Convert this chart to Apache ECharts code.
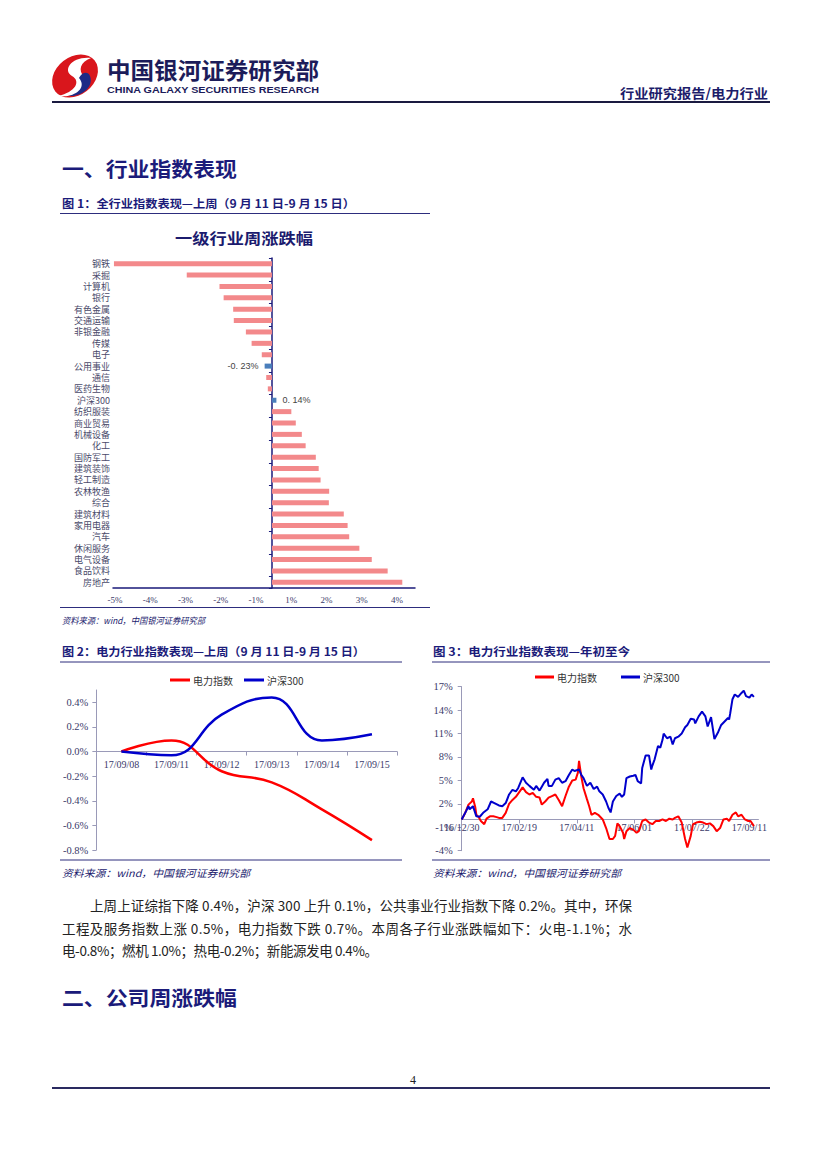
<!DOCTYPE html>
<html>
<head>
<meta charset="utf-8">
<script src="https://cdn.jsdelivr.net/npm/echarts@6/dist/echarts.min.js"></script>
<style>
  html,body{margin:0;padding:0;background:#fff;}
  #page{position:relative;width:827px;height:1169px;overflow:hidden;background:#fff;}
  #bg{position:absolute;left:0;top:0;}
  .chart{position:absolute;}
  .cjk{font-family:'Noto Sans CJK SC','Noto Sans',sans-serif;}
</style>
</head>
<body>
<div id="page">
<svg id="bg" width="827" height="1169" viewBox="0 0 827 1169" xmlns="http://www.w3.org/2000/svg">
  <g transform="translate(48,54)">
    <ellipse cx="27" cy="22" rx="25" ry="19" transform="rotate(-38 27 22)" fill="#d9161c"/>
    <path d="M43 4 C 24 2, 14 16, 24 22 C 33 27, 28 38, 10 42 C 30 44, 44 34, 36 23 C 30 16, 32 8, 43 4 Z" fill="#ffffff"/>
    <path d="M31 24 C 37 31, 33 39, 20 42 C 34 43, 46 33, 42 22 C 40 17, 34 18, 31 24 Z" fill="#1d2a86"/>
  </g>
  <g class="cjk" dominant-baseline="central">
    <text x="107" y="68.5" font-size="23" font-weight="700" fill="#1c1c5a" textLength="212" lengthAdjust="spacingAndGlyphs">中国银河证券研究部</text>
    <text x="107" y="89" font-size="9.5" font-weight="700" fill="#1c1c5a" font-family="Liberation Sans, Arial, sans-serif" textLength="212" lengthAdjust="spacingAndGlyphs">CHINA GALAXY SECURITIES RESEARCH</text>
    <text x="620" y="92" font-size="13" font-weight="700" fill="#1c1c6a" textLength="148" lengthAdjust="spacingAndGlyphs">行业研究报告/电力行业</text>

    <text x="62" y="168" font-size="20" font-weight="700" fill="#1b1b7a" textLength="175" lengthAdjust="spacingAndGlyphs">一、行业指数表现</text>
    <text x="62" y="203" font-size="11.5" font-weight="700" fill="#1b1b7a" textLength="293" lengthAdjust="spacingAndGlyphs">图 1：全行业指数表现—上周（9 月 11 日-9 月 15 日）</text>
    <text x="175" y="237" font-size="15" font-weight="700" fill="#1b1b6e" textLength="138" lengthAdjust="spacingAndGlyphs">一级行业周涨跌幅</text>
    <text x="62" y="620" font-size="9" font-style="italic" fill="#1b1b6e" textLength="143" lengthAdjust="spacingAndGlyphs">资料来源：wind，中国银河证券研究部</text>

    <text x="62" y="651" font-size="11.5" font-weight="700" fill="#1b1b7a" textLength="303" lengthAdjust="spacingAndGlyphs">图 2：电力行业指数表现—上周（9 月 11 日-9 月 15 日）</text>
    <text x="433" y="651" font-size="11.5" font-weight="700" fill="#1b1b7a" textLength="197" lengthAdjust="spacingAndGlyphs">图 3：电力行业指数表现—年初至今</text>
    <text x="62" y="872" font-size="10" font-style="italic" fill="#1b1b6e" textLength="188" lengthAdjust="spacingAndGlyphs">资料来源：wind，中国银河证券研究部</text>
    <text x="433" y="872" font-size="10" font-style="italic" fill="#1b1b6e" textLength="188" lengthAdjust="spacingAndGlyphs">资料来源：wind，中国银河证券研究部</text>

    <text x="90" y="905" font-size="13.5" fill="#222" textLength="542" lengthAdjust="spacing">上周上证综指下降 0.4%，沪深 300 上升 0.1%，公共事业行业指数下降 0.2%。其中，环保</text>
    <text x="62" y="928" font-size="13.5" fill="#222" textLength="570" lengthAdjust="spacing">工程及服务指数上涨 0.5%，电力指数下跌 0.7%。本周各子行业涨跌幅如下：火电-1.1%；水</text>
    <text x="62" y="950" font-size="13.5" fill="#222" textLength="316" lengthAdjust="spacing">电-0.8%；燃机 1.0%；热电-0.2%；新能源发电 0.4%。</text>

    <text x="62" y="997" font-size="20" font-weight="700" fill="#1b1b7a" textLength="175" lengthAdjust="spacingAndGlyphs">二、公司周涨跌幅</text>
    <text x="413" y="1080" font-size="12" fill="#222" text-anchor="middle" font-family="Liberation Serif, serif">4</text>
  </g>
  <g fill="none">
    <line x1="52" y1="102" x2="770" y2="102" stroke="#1a1a40" stroke-width="2"/>
    <line x1="60" y1="213.5" x2="430" y2="213.5" stroke="#2d2d7d" stroke-width="1"/>
    <line x1="60" y1="607.5" x2="430" y2="607.5" stroke="#2d2d7d" stroke-width="1"/>
    <line x1="60" y1="662" x2="402" y2="662" stroke="#2d2d7d" stroke-width="1"/>
    <line x1="432" y1="662" x2="770" y2="662" stroke="#2d2d7d" stroke-width="1"/>
    <line x1="60" y1="860" x2="402" y2="860" stroke="#2d2d7d" stroke-width="1"/>
    <line x1="432" y1="860" x2="770" y2="860" stroke="#2d2d7d" stroke-width="1"/>
    <line x1="52" y1="1088" x2="770" y2="1088" stroke="#2a2a60" stroke-width="2"/>
  </g>
</svg>
<div id="c1" class="chart" style="left:60px;top:215px;width:370px;height:390px;"></div>
<div id="c2" class="chart" style="left:60px;top:663px;width:345px;height:195px;"></div>
<div id="c3" class="chart" style="left:430px;top:663px;width:340px;height:195px;"></div>
</div>
<script>
// ---------- Figure 1: weekly change by industry (%) ----------
const industries = ['钢铁','采掘','计算机','银行','有色金属','交通运输','非银金融','传媒','电子','公用事业','通信','医药生物','沪深300','纺织服装','商业贸易','机械设备','化工','国防军工','建筑装饰','轻工制造','农林牧渔','综合','建筑材料','家用电器','汽车','休闲服务','电气设备','食品饮料','房地产'];
const weeklyChange = [-4.97,-2.68,-1.65,-1.52,-1.22,-1.20,-0.82,-0.64,-0.32,-0.23,-0.18,-0.13,0.14,0.61,0.75,0.94,1.06,1.38,1.47,1.53,1.80,1.79,2.26,2.38,2.43,2.75,3.14,3.64,4.10];
const highlighted = ['公用事业','沪深300'];
const fig1TickLabels = ['-5%','-4%','-3%','-2%','-1%','1%','2%','3%','4%'];

// ---------- Figure 2: last week (%) ----------
const weekDates = ['17/09/08','17/09/11','17/09/12','17/09/13','17/09/14','17/09/15'];
const powerWeek = [0, 0.09, -0.16, -0.25, -0.47, -0.72];
const hs300Week = [0, -0.03, 0.30, 0.44, 0.09, 0.14];

// ---------- Figure 3: year to date (%), x = calendar days since 2016-12-30 ----------
const ytdTickLabels = ['16/12/30','17/02/19','17/04/11','17/06/01','17/07/22','17/09/11'];
const powerYtdDays = [0,3,6,9,10,12,13,15,17,20,22,25,28,31,33,36,39,42,45,48,51,54,57,60,63,66,69,71,74,77,80,83,86,89,92,95,98,101,103,104,106,108,111,113,115,118,121,125,128,131,134,136,138,140,143,144,146,149,152,155,157,160,163,166,169,172,175,178,181,184,187,189,192,195,198,200,203,205,208,211,214,217,220,223,226,229,232,235,237,240,243,245,248,251,254,256,259];
const powerYtd = [0,0.8,1.9,2.3,2.7,1.6,0.6,0.3,-0.2,-0.6,0.1,0.4,0.4,0.3,0.2,0.2,0.85,2.0,2.5,2.9,3.5,4.1,3.5,3.2,3.4,2.9,2.8,1.9,2.3,2.8,3.0,3.2,2.5,1.7,3.0,4.2,5.0,5.1,6.0,7.5,5.5,4.0,2.6,1.7,0.6,0.85,0.6,0,-1.1,-2.5,-2.5,-2.1,-0.5,-0.85,-1.7,-2.5,-1.5,-1.1,-1.3,-1.7,-1.5,-0.2,0,-0.4,-0.6,-0.2,-0.2,0,-0.2,0.1,0,0.2,0.4,-0.4,-2.5,-3.6,-2.1,-0.6,-0.4,-0.3,-0.4,-0.6,-0.5,-0.85,-1.5,-1.1,0,0.1,-0.2,0.6,0.9,0.4,0.6,0,-0.2,-0.2,-0.85];
const hs300YtdDays = [0,4,6,7,10,13,16,19,23,26,29,33,36,39,42,45,48,50,54,57,60,64,66,69,71,73,76,77,80,83,86,89,92,95,98,100,104,106,108,111,114,117,120,122,125,128,130,132,134,137,140,142,144,146,149,152,154,156,159,160,163,166,168,169,171,174,176,178,179,182,185,187,189,192,195,198,200,203,206,207,210,213,216,218,221,224,227,230,233,236,237,238,240,242,245,248,250,252,255,257,259];
const hs300Ytd = [0,1.1,1.7,1.3,1.7,0.4,0.35,0.85,1.3,2.3,2.1,1.8,1.7,2.1,3.2,3.8,3.6,4.0,5.4,4.7,4.3,3.8,4.3,3.7,4.2,4.7,5.2,4.3,4.3,5.1,5.3,4.7,4.9,5.7,6.4,6.2,6.4,5.7,5.3,4.3,4.7,3.9,4.2,3.6,3.2,2.3,1.5,0.9,2.3,3.0,3.3,2.9,3.2,5.3,5.5,5.6,5.7,4.9,4.6,6.6,8.2,8.2,6.4,6.9,7.7,9.4,9.2,10.2,11.0,10.4,10.6,9.6,10.4,10.6,11.0,11.8,12.1,12.9,12.8,12.3,13.2,13.8,13.2,11.9,13.1,10.3,11.1,12.1,12.55,13.0,12.8,13.6,15.4,16.0,15.7,16.2,16.5,15.8,15.6,16.0,15.7];

const AXIS_NAVY = '#1a1a7a';
const AXIS_GREY = '#9a9ab8';
const LABEL_CLR = '#3a3a6a';
const SERIF = 'Liberation Serif';
const CJK = 'Noto Sans CJK SC';

// offset that lifts a bottom x axis onto the value 0 of the y axis
function zeroOffset(gridHeight, min, max) { return -gridHeight * (0 - min) / (max - min); }

// ---------- Chart 1 ----------
const c1 = echarts.init(document.getElementById('c1'), null, {renderer:'svg'});
c1.setOption({
  animation:false,
  grid:[{left:53, top:43, width:302, height:330},{left:55, top:43, width:282, height:330}],
  xAxis:[
    {type:'value', gridIndex:0, min:-5, max:4.5,
     axisLine:{show:true, lineStyle:{color:AXIS_NAVY, width:1.5}},
     axisTick:{show:false}, axisLabel:{show:false}, splitLine:{show:false}},
    {type:'category', gridIndex:1, data:fig1TickLabels, boundaryGap:false, position:'bottom',
     axisLine:{show:false}, axisTick:{show:false},
     axisLabel:{interval:0, margin:7, fontSize:9, color:LABEL_CLR, fontFamily:SERIF}}
  ],
  yAxis:[
    {type:'category', gridIndex:0, position:'left', data:industries, inverse:true,
     axisLine:{show:true, onZero:true, lineStyle:{color:AXIS_NAVY, width:1.5}},
     axisTick:{show:true, length:3, lineStyle:{color:AXIS_NAVY}},
     axisLabel:{show:false}},
    {type:'category', gridIndex:0, position:'left', data:industries, inverse:true,
     axisLine:{show:false, onZero:false}, axisTick:{show:false},
     axisLabel:{interval:0, margin:3, fontSize:9, color:'#4a4a6a', fontFamily:CJK}},
    {type:'value', gridIndex:1, show:false}
  ],
  series:[{
    type:'bar', xAxisIndex:0, yAxisIndex:0, barWidth:5,
    data: industries.map((n,i)=>{
      const hl = highlighted.includes(n);
      return {
        value: weeklyChange[i],
        itemStyle:{color: hl ? '#4a7ebb' : '#f3898b'},
        label: hl ? {show:true, position: weeklyChange[i] < 0 ? 'left' : 'right', distance:6,
          fontSize:9, color:'#444', fontFamily:'Liberation Sans',
          formatter: p => p.value.toFixed(2).replace('.', '. ') + '%'} : {show:false}
      };
    })
  }]
});

// ---------- Chart 2 ----------
const g2 = {left:35, top:27, width:302, height:160};
const y2 = {min:-0.8, max:0.5};
const c2 = echarts.init(document.getElementById('c2'), null, {renderer:'svg'});
c2.setOption({
  animation:false,
  grid:g2,
  legend:{left:105, top:7, itemWidth:20, itemHeight:3, itemGap:11, icon:'rect',
    textStyle:{fontSize:10, color:'#333', fontFamily:CJK, padding:[0,0,0,-2]}},
  xAxis:{type:'category', data:weekDates, boundaryGap:true, position:'bottom',
    offset: zeroOffset(g2.height, y2.min, y2.max),
    axisLine:{onZero:false, lineStyle:{color:AXIS_GREY}},
    axisTick:{show:true, length:4, lineStyle:{color:AXIS_GREY}},
    axisLabel:{interval:0, margin:8, fontSize:10, color:LABEL_CLR, fontFamily:SERIF}},
  yAxis:{type:'value', min:y2.min, max:y2.max, interval:0.2,
    axisLine:{show:true, lineStyle:{color:AXIS_GREY}},
    axisTick:{show:true, length:4, lineStyle:{color:AXIS_GREY}},
    splitLine:{show:false},
    axisLabel:{showMaxLabel:false, margin:8, fontSize:10.5, color:LABEL_CLR, fontFamily:SERIF,
      formatter: v => (Math.abs(v) < 1e-9 ? 0 : v).toFixed(1) + '%'}},
  series:[
    {name:'电力指数', type:'line', data:powerWeek, smooth:0.45, showSymbol:false,
     lineStyle:{color:'#ff0000', width:2.5}, itemStyle:{color:'#ff0000'}},
    {name:'沪深300', type:'line', data:hs300Week, smooth:0.45, showSymbol:false,
     lineStyle:{color:'#0000cc', width:2.5}, itemStyle:{color:'#0000cc'}}
  ]
});

// ---------- Chart 3 ----------
const g3 = {left:31.7, top:23.7, width:300.7, height:164};
const y3 = {min:-4, max:17};
const c3 = echarts.init(document.getElementById('c3'), null, {renderer:'svg'});
c3.setOption({
  animation:false,
  grid:g3,
  legend:{left:100, top:4, itemWidth:19, itemHeight:3, itemGap:24, icon:'rect',
    textStyle:{fontSize:10, color:'#333', fontFamily:CJK, padding:[0,0,0,-2]}},
  xAxis:{type:'value', min:0, max:263, interval:51, position:'bottom',
    offset: zeroOffset(g3.height, y3.min, y3.max),
    axisLine:{onZero:false, lineStyle:{color:AXIS_GREY}},
    axisTick:{show:true, length:4, lineStyle:{color:AXIS_GREY}},
    splitLine:{show:false},
    axisLabel:{showMaxLabel:false, margin:3, fontSize:10, color:LABEL_CLR, fontFamily:SERIF,
      formatter: v => ytdTickLabels[Math.round(v/51)] || ''}},
  yAxis:{type:'value', min:y3.min, max:y3.max, interval:3,
    axisLine:{show:true, lineStyle:{color:AXIS_GREY}},
    axisTick:{show:true, length:4, lineStyle:{color:AXIS_GREY}},
    splitLine:{show:false},
    axisLabel:{margin:9, fontSize:10.5, color:LABEL_CLR, fontFamily:SERIF, formatter: v => v + '%'}},
  series:[
    {name:'电力指数', type:'line', data:powerYtdDays.map((d,i)=>[d, powerYtd[i]]), showSymbol:false,
     lineStyle:{color:'#ff0000', width:2}, itemStyle:{color:'#ff0000'}},
    {name:'沪深300', type:'line', data:hs300YtdDays.map((d,i)=>[d, hs300Ytd[i]]), showSymbol:false,
     lineStyle:{color:'#0000cc', width:2}, itemStyle:{color:'#0000cc'}}
  ]
});
</script>
</body>
</html>
